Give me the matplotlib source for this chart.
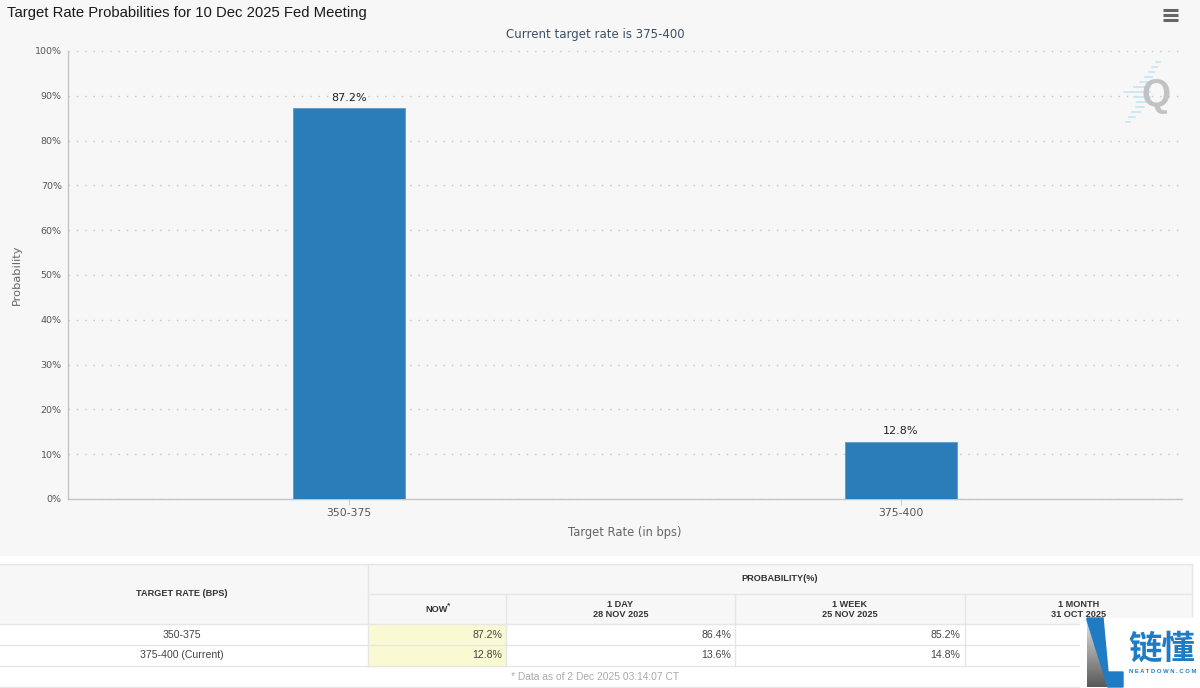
import matplotlib
matplotlib.use('Agg')
import matplotlib.pyplot as plt
import numpy as np
from matplotlib.patches import Polygon, Rectangle

rates = ['350-375', '375-400']
probs = [87.2, 12.8]
y_ticks = [0, 10, 20, 30, 40, 50, 60, 70, 80, 90, 100]

col_titles = ['NOW', '1 DAY\n28 NOV 2025', '1 WEEK\n25 NOV 2025', '1 MONTH\n31 OCT 2025']
row_names = ['350-375', '375-400 (Current)']
now_vals = ['87.2%', '12.8%']
day_vals = ['86.4%', '13.6%']
week_vals = ['85.2%', '14.8%']

W, H = 1200, 688
LINE = '#e6e6e6'
BLUE = '#2a7db8'

plt.rcParams['font.family'] = ['DejaVu Sans']
fig = plt.figure(figsize=(W / 100, H / 100), dpi=100, facecolor='#f7f7f7')

# chart, placed in pixels
ax = fig.add_axes([68 / W, 1 - 499 / H, (1182 - 68) / W, (499 - 51) / H], facecolor='none', zorder=1)
ax.bar(range(len(rates)), probs, width=0.203, color=BLUE, edgecolor='#5b9cc9', linewidth=0.6, zorder=3)
for i, v in enumerate(probs):
    ax.annotate(f'{v}%', (i, v), xytext=(0, 4), textcoords='offset points', ha='center', va='bottom',
                fontsize=8, color='#222222')
ax.set_xlim(-0.509, 1.509)
ax.set_ylim(0, 100)
ax.set_yticks(y_ticks)
ax.set_yticklabels([f'{t}%' for t in y_ticks], fontsize=6.8, color='#555555')
ax.set_xticks(range(len(rates)))
ax.set_xticklabels(rates, fontsize=7.8, color='#555555')
ax.tick_params(axis='y', length=0, pad=4.5)
ax.tick_params(axis='x', length=4, width=0.7, color='#c8c8c8', pad=2.5)
ax.grid(axis='y', color='#c4c4c4', linestyle=(0, (1, 5)), linewidth=1, zorder=0)
ax.set_axisbelow(True)
for side in ['top', 'right']:
    ax.spines[side].set_visible(False)
for side in ['left', 'bottom']:
    ax.spines[side].set_color('#c4c4c4')
    ax.spines[side].set_linewidth(1)
ax.set_xlabel('Target Rate (in bps)', fontsize=8.3, color='#666666', labelpad=6)
ax.set_ylabel('Probability', fontsize=8.2, color='#666666', labelpad=9)

# page level stuff in pixel coords: title, menu, logo, table, watermark
page = fig.add_axes([0, 0, 1, 1], facecolor='none', zorder=2)
page.set_xlim(0, W)
page.set_ylim(H, 0)
page.axis('off')

page.text(7, 12.5, 'Target Rate Probabilities for 10 Dec 2025 Fed Meeting', family='Liberation Sans',
          fontsize=10.75, color='#1a1a1a', ha='left', va='center')
page.text(595, 34.5, 'Current target rate is 375-400', fontsize=8.5, color='#3d4f66', ha='center', va='center')

for y in [9.5, 15, 20]:
    page.plot([1163, 1178], [y, y], color='#666666', lw=2.2, solid_capstyle='butt')

# Q logo
for y, x0, x1 in zip(range(62, 124, 5),
                     [1156, 1152, 1149, 1145, 1140, 1134, 1124, 1134, 1137, 1136, 1132, 1129, 1126],
                     [1160, 1157, 1154, 1152, 1150, 1150, 1150, 1150, 1148, 1144, 1140, 1135, 1130]):
    page.plot([x0, x1], [y, y], color='#c4e6f0', lw=1.2)
page.text(1156, 96, 'Q', family='Liberation Sans', fontsize=27, fontweight='bold', color='#c2c2c2',
          ha='center', va='center')

# table
page.add_patch(Rectangle((0, 556), W, H - 556, color='white', zorder=0))
page.add_patch(Rectangle((0, 564), 1192, 60, color='#f7f7f7', zorder=0))
page.add_patch(Rectangle((368, 624), 138, 42, color='#fafad2', zorder=0))

for y in [564, 624, 645, 666, 687]:
    page.plot([0, 1192], [y, y], color=LINE, lw=1)
page.plot([368, 1192], [594, 594], color=LINE, lw=1)
page.plot([368, 368], [564, 666], color=LINE, lw=1)
page.plot([1192, 1192], [564, 666], color=LINE, lw=1)
for x in [506, 735, 965]:
    page.plot([x, x], [594, 666], color=LINE, lw=1)

head = dict(family='Liberation Sans', fontsize=6.6, fontweight='bold', color='#333333', ha='center', va='center')
cell = dict(family='Liberation Sans', fontsize=7.6, color='#444444', va='center')
page.text(182, 593, 'TARGET RATE (BPS)', **head)
page.text(780, 578.5, 'PROBABILITY(%)', **head)
for (x0, x1), title in zip([(368, 506), (506, 735), (735, 965), (965, 1192)], col_titles):
    page.text((x0 + x1) / 2, 609.5, title, linespacing=1.05, **head)
page.text(449, 606, '*', family='Liberation Sans', fontsize=6, fontweight='bold', color='#333333', ha='center', va='center')

for y, name, a, b, c in zip([635, 655.5], row_names, now_vals, day_vals, week_vals):
    page.text(182, y, name, ha='center', **cell)
    page.text(502, y, a, ha='right', **cell)
    page.text(731, y, b, ha='right', **cell)
    page.text(960, y, c, ha='right', **cell)
page.text(595, 677, '* Data as of 2 Dec 2025 03:14:07 CT', family='Liberation Sans', fontsize=7.4,
          color='#aaaaaa', ha='center', va='center')

# watermark
page.add_patch(Rectangle((1080, 618), 120, 70, color='white', zorder=3))
tri = Polygon([(1087, 620), (1087, 687), (1108, 687)], closed=True, transform=page.transData, fc='none', ec='none', zorder=4)
page.add_patch(tri)
grad = page.imshow(np.linspace(0.88, 0.35, 64).reshape(-1, 1), cmap='gray', vmin=0, vmax=1,
                   extent=(1087, 1108, 687, 620), aspect='auto', zorder=4)
grad.set_clip_path(tri)
page.set_xlim(0, W)
page.set_ylim(H, 0)
page.add_patch(Polygon([(1087, 618), (1103, 618), (1108, 672), (1123, 672), (1123, 687), (1108, 687), (1087, 620)],
                       closed=True, color='#1f7cc4', zorder=5))
page.text(1162, 649, '链懂', family='Noto Sans CJK SC', fontsize=24, fontweight='bold', color='#1f7cc4',
          ha='center', va='center', zorder=5)
page.text(1163, 671.5, 'N E A T D O W N . C O M', family='Liberation Sans', fontsize=4.2, fontweight='bold',
          color='#1f7cc4', ha='center', va='center', zorder=5)

fig.savefig('out.png', dpi=100)
